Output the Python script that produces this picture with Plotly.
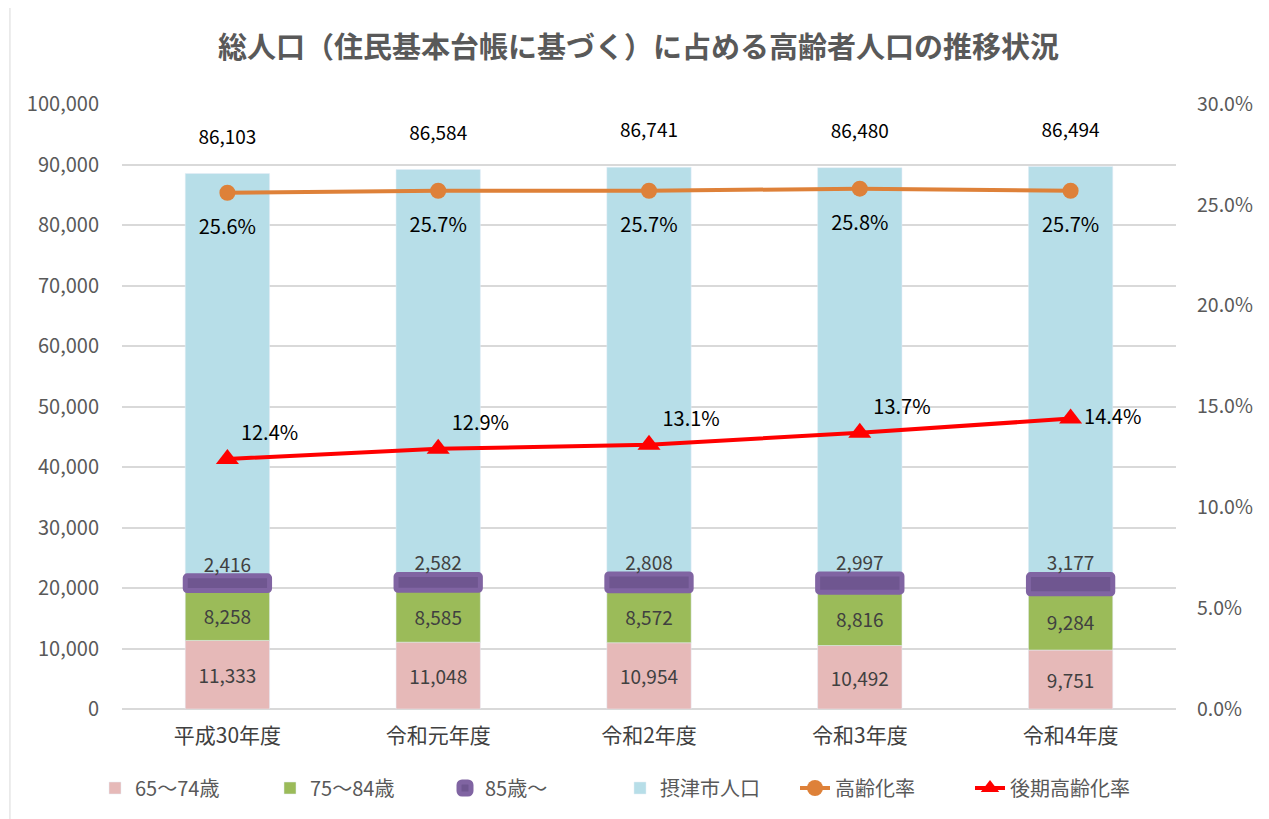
import plotly.graph_objects as go

categories = ["平成30年度", "令和元年度", "令和2年度", "令和3年度", "令和4年度"]
age_65_74 = [11333, 11048, 10954, 10492, 9751]
age_75_84 = [8258, 8585, 8572, 8816, 9284]
age_85_plus = [2416, 2582, 2808, 2997, 3177]
total_pop = [86103, 86584, 86741, 86480, 86494]
aging_rate = [25.6, 25.7, 25.7, 25.8, 25.7]
late_aging_rate = [12.4, 12.9, 13.1, 13.7, 14.4]

FONT = "Noto Sans CJK JP"
base_b = list(age_65_74)
base_c = [a + b for a, b in zip(age_65_74, age_75_84)]
base_d = [a + b + c for a, b, c in zip(age_65_74, age_75_84, age_85_plus)]
blue_vals = [t - a - b for t, a, b in zip(total_pop, age_65_74, age_75_84)]
tops = [d + v for d, v in zip(base_d, blue_vals)]

fmt = lambda v: f"{v:,}"
fig = go.Figure()
W = 0.4
LBL = 19
fig.add_trace(go.Bar(x=categories, y=age_65_74, base=[0]*5, name="65～74歳", width=W,
                     marker=dict(color="#E6B9B8"), text=[fmt(v) for v in age_65_74],
                     textposition="inside", insidetextanchor="middle",
                     textfont=dict(size=LBL, color="#404040", family=FONT), legendrank=1))
fig.add_trace(go.Bar(x=categories, y=age_75_84, base=base_b, name="75～84歳", width=W,
                     marker=dict(color="#9BBB59"), text=[fmt(v) for v in age_75_84],
                     textposition="inside", insidetextanchor="middle",
                     textfont=dict(size=LBL, color="#404040", family=FONT), legendrank=2))
fig.add_trace(go.Bar(x=categories, y=blue_vals, base=base_d, name="摂津市人口", width=W,
                     marker=dict(color="#B7DEE8"), legendrank=4))
fig.add_trace(go.Bar(x=categories, y=age_85_plus, base=base_c, name="85歳～", width=W,
                     marker=dict(color="#6F5690", line=dict(color="#8064A2", width=5), cornerradius=2),
                     legendrank=3))
# 85+ labels
fig.add_trace(go.Scatter(x=categories, y=[d + 1500 for d in base_d], mode="text",
                         text=[fmt(v) for v in age_85_plus], showlegend=False,
                         textfont=dict(size=LBL, color="#404040", family=FONT), hoverinfo="skip"))
# total labels
fig.add_trace(go.Scatter(x=categories, y=[t + 5700 for t in tops], mode="text",
                         text=[fmt(v) for v in total_pop], showlegend=False,
                         textfont=dict(size=LBL, color="#000000", family=FONT), hoverinfo="skip"))
fig.add_trace(go.Scatter(x=categories, y=aging_rate, yaxis="y2", name="高齢化率",
                         mode="lines+markers", line=dict(color="#DE8139", width=4),
                         marker=dict(symbol="circle", size=16, color="#DE8139"), legendrank=5))
fig.add_trace(go.Scatter(x=categories, y=[r - 1.8 for r in aging_rate], yaxis="y2", mode="text",
                         text=[f"{r:.1f}%" for r in aging_rate], showlegend=False,
                         textfont=dict(size=20, color="#000000", family=FONT), hoverinfo="skip"))
fig.add_trace(go.Scatter(x=categories, y=late_aging_rate, yaxis="y2", name="後期高齢化率",
                         mode="lines+markers+text", line=dict(color="#FF0000", width=4),
                         marker=dict(symbol="triangle-up", size=20, color="#FF0000"),
                         text=[f"{r:.1f}%" for r in late_aging_rate],
                         textposition=["top right"]*4 + ["middle right"],
                         textfont=dict(size=20, color="#000000", family=FONT), legendrank=6))

fig.update_layout(
    width=1261, height=811,
    margin=dict(l=114, r=93, t=96, b=110),
    paper_bgcolor="white", plot_bgcolor="white",
    barmode="overlay",
    font=dict(family=FONT, color="#595959", size=18),
    title=dict(text="<b>総人口（住民基本台帳に基づく）に占める高齢者人口の推移状況</b>",
               x=0.5, xanchor="center", y=1 - 40/811, yanchor="middle",
               font=dict(size=29, color="#595959", family=FONT)),
    xaxis=dict(showgrid=False, showline=False, tickfont=dict(size=21, color="#404040"),
               ticklabelstandoff=12),
    yaxis=dict(range=[0, 100000], dtick=10000, tickformat=",", gridcolor="#D9D9D9", gridwidth=1.5,
               zeroline=True, zerolinecolor="#D9D9D9", zerolinewidth=1.5,
               tickfont=dict(size=20, color="#595959"), ticklabelstandoff=22),
    yaxis2=dict(range=[0, 30], dtick=5, tickformat=".1f", ticksuffix="%", overlaying="y",
                side="right", showgrid=False, zeroline=False,
                tickfont=dict(size=19.5, color="#595959"), ticklabelstandoff=20),
    legend=dict(orientation="h", x=(620-122)/1054, xanchor="center", y=-0.1306, yanchor="middle",
                entrywidth=130, font=dict(size=20, color="#595959")),
    showlegend=True,
    shapes=[dict(type="rect", xref="paper", yref="paper", x0=-0.1063, x1=1.0854, y0=-0.2, y1=1.2,
                 line=dict(color="#D9D9D9", width=1), layer="below")],
)
fig.write_html("out.html")
